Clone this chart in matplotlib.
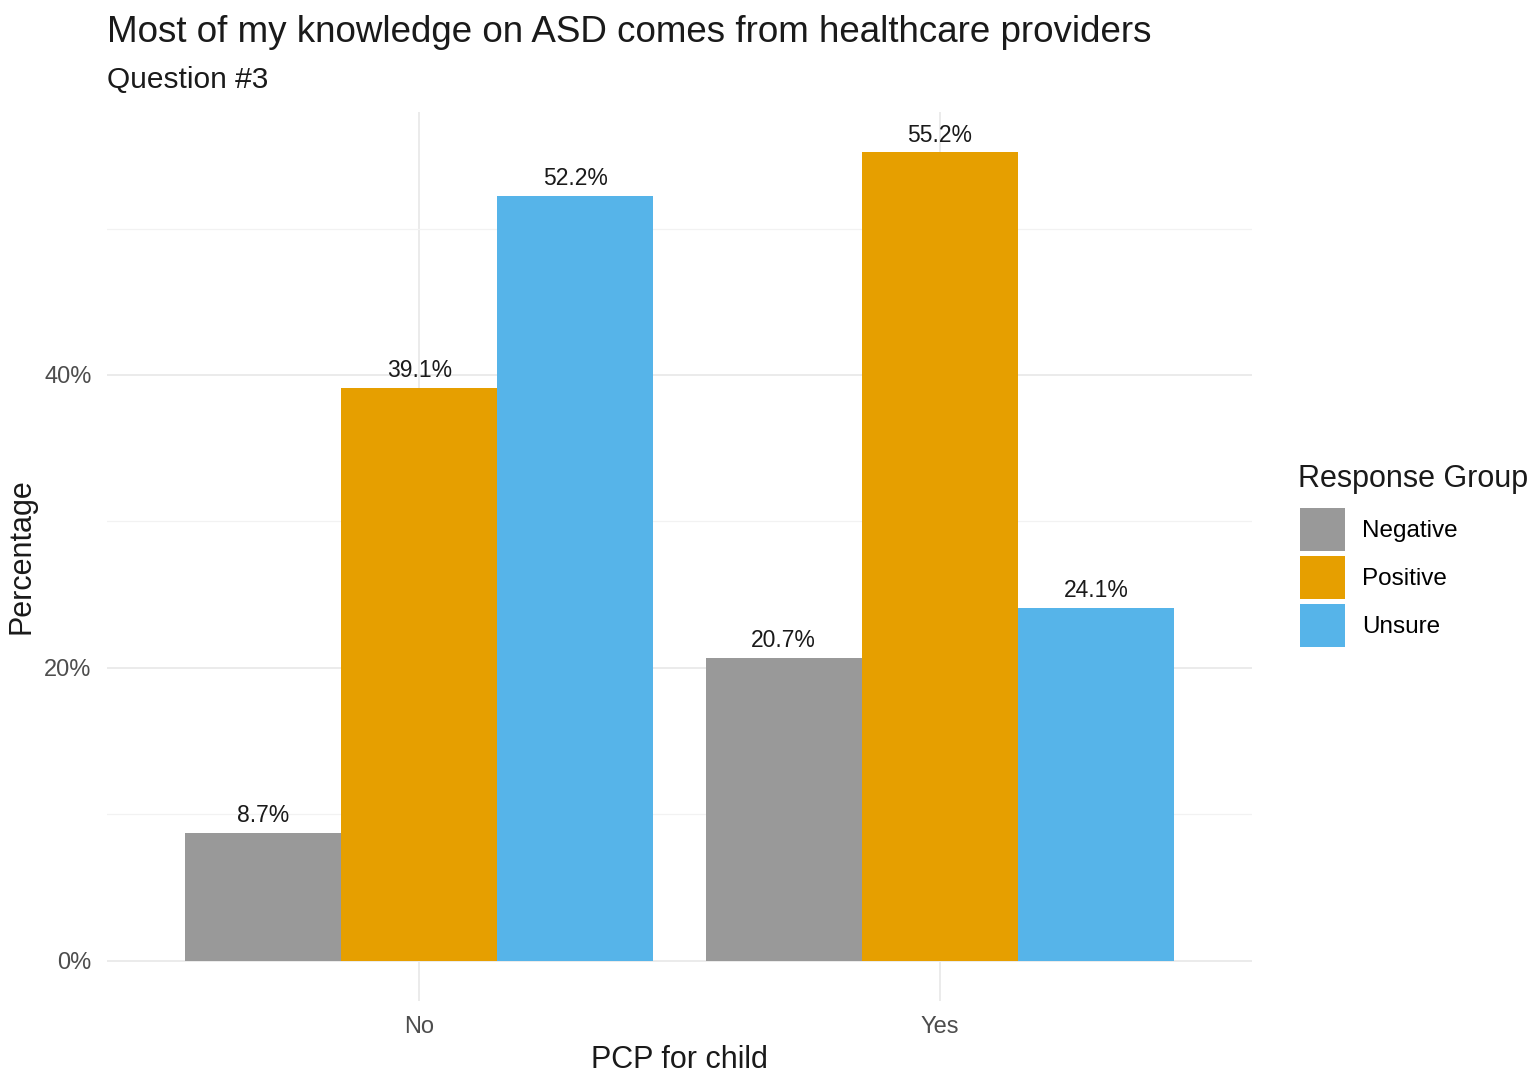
import matplotlib.pyplot as plt
import numpy as np
from matplotlib.patches import Patch
from matplotlib.ticker import MultipleLocator, FuncFormatter

plt.rcParams['font.family'] = ['Liberation Sans', 'DejaVu Sans']

# Data
pcp_groups = ["No", "Yes"]
response_groups = ["Negative", "Positive", "Unsure"]
negative = [8.7, 20.7]
positive = [39.1, 55.2]
unsure = [52.2, 24.1]
colors = ["#999999", "#E69F00", "#56B4E9"]

series = [negative, positive, unsure]

fig = plt.figure(figsize=(15.35, 10.78), dpi=100)
ax = fig.add_axes([107/1535, 77/1078, (1252-107)/1535, (1001-112)/1078])

x = np.arange(len(pcp_groups)) + 1
bar_width = 0.3
for i, (vals, col) in enumerate(zip(series, colors)):
    pos = x + (i - 1) * bar_width
    ax.bar(pos, vals, width=bar_width, color=col, zorder=2)
    for p, v in zip(pos, vals):
        ax.text(p, v + 0.4, f"{v:.1f}%", ha='center', va='bottom', fontsize=16.5, color='#1a1a1a')

ymax = max(max(s) for s in series)
ax.set_ylim(-0.05 * ymax, ymax * 1.05)
ax.set_xlim(0.4, 2.6)
ax.set_xticks(x)
ax.set_xticklabels(pcp_groups)
ax.yaxis.set_major_locator(MultipleLocator(20))
ax.yaxis.set_minor_locator(MultipleLocator(10))
ax.yaxis.set_major_formatter(FuncFormatter(lambda v, _: f"{v:.0f}%"))

ax.grid(which='major', color='#EBEBEB', linewidth=1.4, zorder=0)
ax.grid(which='minor', axis='y', color='#F2F2F2', linewidth=0.9, zorder=0)
ax.set_axisbelow(True)
for s in ax.spines.values():
    s.set_visible(False)
ax.tick_params(which='both', length=0, labelsize=17, labelcolor='#4d4d4d')
ax.tick_params(axis='y', pad=11)
ax.tick_params(axis='x', pad=11)

ax.set_xlabel("PCP for child", fontsize=22, color='#1a1a1a', labelpad=5)
ax.set_ylabel("Percentage", fontsize=22, color='#1a1a1a', labelpad=6)

fig.text(107/1535, 1 - 33/1078, "Most of my knowledge on ASD comes from healthcare providers",
         fontsize=26.5, va='center', ha='left', color='#1a1a1a')
fig.text(107/1535, 1 - 80/1078, "Question #3", fontsize=21.5, va='center', ha='left', color='#1a1a1a')

# legend: title as separate text, keys below
fig.text(1298/1535, 1 - 479/1078, "Response Group", fontsize=22, va='center', ha='left', color='#1a1a1a')
handles = [Patch(facecolor=c, edgecolor='none') for c in colors]
leg = fig.legend(handles, response_groups, loc='upper left',
                 bbox_to_anchor=(1300/1535, 1 - 508/1078), frameon=False, borderpad=0,
                 borderaxespad=0, fontsize=17.5, handlelength=1.85, handleheight=2.35,
                 labelspacing=0.2, handletextpad=0.7)

plt.savefig("out.png", dpi=100)
